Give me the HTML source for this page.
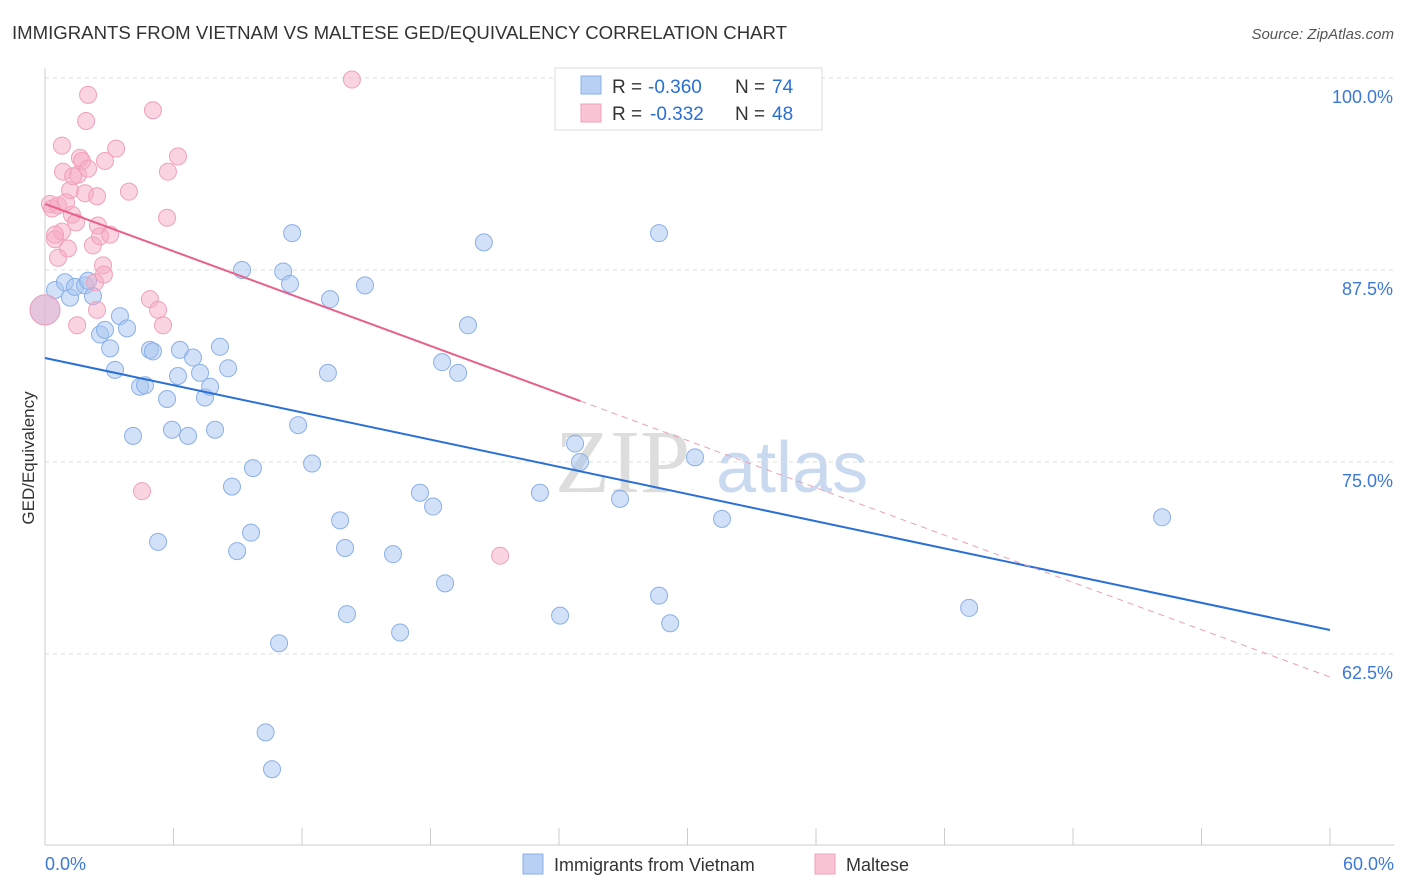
<!DOCTYPE html>
<html><head><meta charset="utf-8">
<style>
body{margin:0;background:#fff;font-family:"Liberation Sans",sans-serif;}
svg{display:block}
</style></head>
<body>
<svg id="chart" width="1406" height="892">
<text x="12" y="39" font-size="18" fill="#333" textLength="775" lengthAdjust="spacingAndGlyphs">IMMIGRANTS FROM VIETNAM VS MALTESE GED/EQUIVALENCY CORRELATION CHART</text>
<text x="1394" y="39" font-size="15" fill="#555" font-style="italic" text-anchor="end">Source: ZipAtlas.com</text>
<text x="555" y="492" font-size="90" fill="#ddd" font-family="Liberation Serif,serif">ZIP</text>
<text x="716" y="492" font-size="72" fill="#c9d9f0">atlas</text>
<g id="grid"></g><g id="axes"></g><g id="marks"></g>
<text transform="translate(34,458) rotate(-90)" font-size="17" fill="#333" text-anchor="middle">GED/Equivalency</text>
<text x="45" y="870" font-size="18" fill="#3b78d8">0.0%</text>
<text x="1394" y="870" font-size="18" fill="#3b78d8" text-anchor="end">60.0%</text>
<g>
<rect x="555" y="68" width="267" height="62" fill="#fff" stroke="#ddd"/>
<rect x="581" y="76" width="20" height="18" fill="#b8d0f4" stroke="#8ab0e8"/>
<rect x="581" y="104" width="20" height="18" fill="#f9c4d4" stroke="#f0a0bc"/>
<text x="612" y="93" font-size="19" fill="#333">R =</text>
<text x="648" y="93" font-size="19" fill="#2a6fd6">-0.360</text>
<text x="735" y="93" font-size="19" fill="#333">N =</text>
<text x="772" y="93" font-size="19" fill="#2a6fd6">74</text>
<text x="612" y="120" font-size="19" fill="#333">R =</text>
<text x="650" y="120" font-size="19" fill="#2a6fd6">-0.332</text>
<text x="735" y="120" font-size="19" fill="#333">N =</text>
<text x="772" y="120" font-size="19" fill="#2a6fd6">48</text>
</g>
<g>
<rect x="523" y="854" width="20" height="20" fill="#b8d0f4" stroke="#8ab0e8"/>
<text x="554" y="871" font-size="18" fill="#333">Immigrants from Vietnam</text>
<rect x="815" y="854" width="20" height="20" fill="#f9c4d4" stroke="#f0a0bc"/>
<text x="846" y="871" font-size="18" fill="#333">Maltese</text>
</g>
</svg>
<script>
const yTicks=[100,87.5,75,62.5];
const yTickLabels=["100.0%","87.5%","75.0%","62.5%"];
const blueX=[0,0.47,0.93,1.17,1.4,1.87,2.24,2.01,2.57,2.8,3.04,3.5,3.83,3.27,4.44,4.67,4.11,4.9,5.04,5.7,5.28,5.93,6.3,6.21,6.68,6.91,7.24,7.47,7.71,8.17,8.55,7.94,9.2,8.73,9.71,8.97,9.62,11.12,11.44,11.54,11.82,10.93,10.3,10.6,12.47,13.31,13.21,14.94,13.78,14.01,14.1,16.25,16.58,17.51,18.12,18.68,18.54,19.29,19.75,20.49,23.11,24.05,24.75,24.98,26.85,26.52,28.67,28.67,29.19,30.35,31.61,43.15,52.16];
const blueY=[84.9,86.2,86.7,85.7,86.4,86.5,85.8,86.8,83.3,83.6,82.4,84.5,83.7,81.0,79.9,80.0,76.7,82.3,82.2,79.1,69.8,77.1,82.3,80.6,76.7,81.8,80.8,79.2,79.9,82.5,81.1,77.1,87.5,73.4,74.6,69.2,70.4,87.4,86.6,89.9,77.4,63.2,57.4,55.0,74.9,85.6,80.8,86.5,71.2,69.4,65.1,69.0,63.9,73.0,72.1,67.1,81.5,80.8,83.9,89.3,73.0,65.0,76.2,75.0,72.6,99.7,89.9,66.3,64.5,75.3,71.3,65.5,71.4];
const pinkX=[0.23,0.47,0.33,0.61,0.79,0.84,0.79,1.07,0.61,1.17,1.26,1.45,1.54,1.63,1.73,1.87,2.01,1.92,2.01,2.34,2.43,2.47,2.24,2.57,2.71,2.75,2.8,3.04,3.32,2.43,1.5,3.92,4.9,5.04,5.28,5.51,5.7,5.74,6.21,4.53,14.33,21.25,0,0.98,1.31,0.47];
const pinkY=[91.8,89.5,91.5,91.7,95.6,93.9,90.0,88.9,88.3,92.7,91.1,90.6,93.7,94.8,94.6,92.5,94.1,97.2,98.9,86.7,92.3,90.4,89.1,89.7,87.8,87.2,94.6,89.8,95.4,84.9,83.9,92.6,85.6,97.9,84.9,83.9,90.9,93.9,94.9,73.1,99.9,68.9,84.9,91.9,93.6,89.8];
const blueTrend=[81.77,64.06];
const pinkTrend=[91.8,61.0];
const pinkSolidEnd=25;
const X0=45,X1=1330,Y100=78,PXU=15.36;
const sx=v=>X0+(v/60)*(X1-X0);
const sy=v=>Y100+(100-v)*PXU;
const NS="http://www.w3.org/2000/svg";
function mk(tag,attrs,parent){const e=document.createElementNS(NS,tag);for(const k in attrs)e.setAttribute(k,attrs[k]);parent.appendChild(e);return e;}
const grid=document.getElementById('grid'),axes=document.getElementById('axes'),marks=document.getElementById('marks');
yTicks.forEach((t,i)=>{
 const l=mk('line',{x1:X0,x2:1394,y1:sy(t),y2:sy(t),stroke:'#ddd','stroke-dasharray':'4,4'},grid);
 
 
 const tx=mk('text',{x:1393,y:sy(t)+25,'font-size':18,fill:'#3b78d8','text-anchor':'end'},grid);
 tx.textContent=yTickLabels[i];
 
 
});
const ax=mk('line',{x1:X0,x2:1394,y1:845,y2:845,stroke:'#ccc'},axes);


const ay=mk('line',{x1:X0,x2:X0,y1:68,y2:845,stroke:'#ccc'},axes);


for(let i=0;i<=10;i++){const t=mk('line',{x1:sx(i*6),x2:sx(i*6),y1:828,y2:845,stroke:'#ccc'},axes);
 
 }
function dots(xs,ys,fill,stroke,name){xs.forEach((x,i)=>{const big=(x===0);
 const c=mk('circle',{cx:sx(x),cy:sy(ys[i]),r:big?15:8.5,fill:fill,stroke:stroke,'stroke-width':1},marks);
 
 });}
dots(blueX,blueY,'rgba(165,195,240,0.5)','#8ab0e8','vietnam-point');
dots(pinkX,pinkY,'rgba(245,170,196,0.5)','#f0a0bc','maltese-point');
const lin=(tr,x)=>tr[0]+(tr[1]-tr[0])*x/60;
const bl=mk('line',{x1:sx(0),y1:sy(lin(blueTrend,0)),x2:sx(60),y2:sy(lin(blueTrend,60)),stroke:'#2a6fd6','stroke-width':2},marks);


const pl=mk('line',{x1:sx(0),y1:sy(lin(pinkTrend,0)),x2:sx(pinkSolidEnd),y2:sy(lin(pinkTrend,pinkSolidEnd)),stroke:'#e8608a','stroke-width':2},marks);


const pd=mk('line',{x1:sx(pinkSolidEnd),y1:sy(lin(pinkTrend,pinkSolidEnd)),x2:sx(60),y2:sy(lin(pinkTrend,60)),stroke:'#e8a0b8','stroke-width':1,'stroke-dasharray':'6,5'},marks);


</script>
</body></html>
